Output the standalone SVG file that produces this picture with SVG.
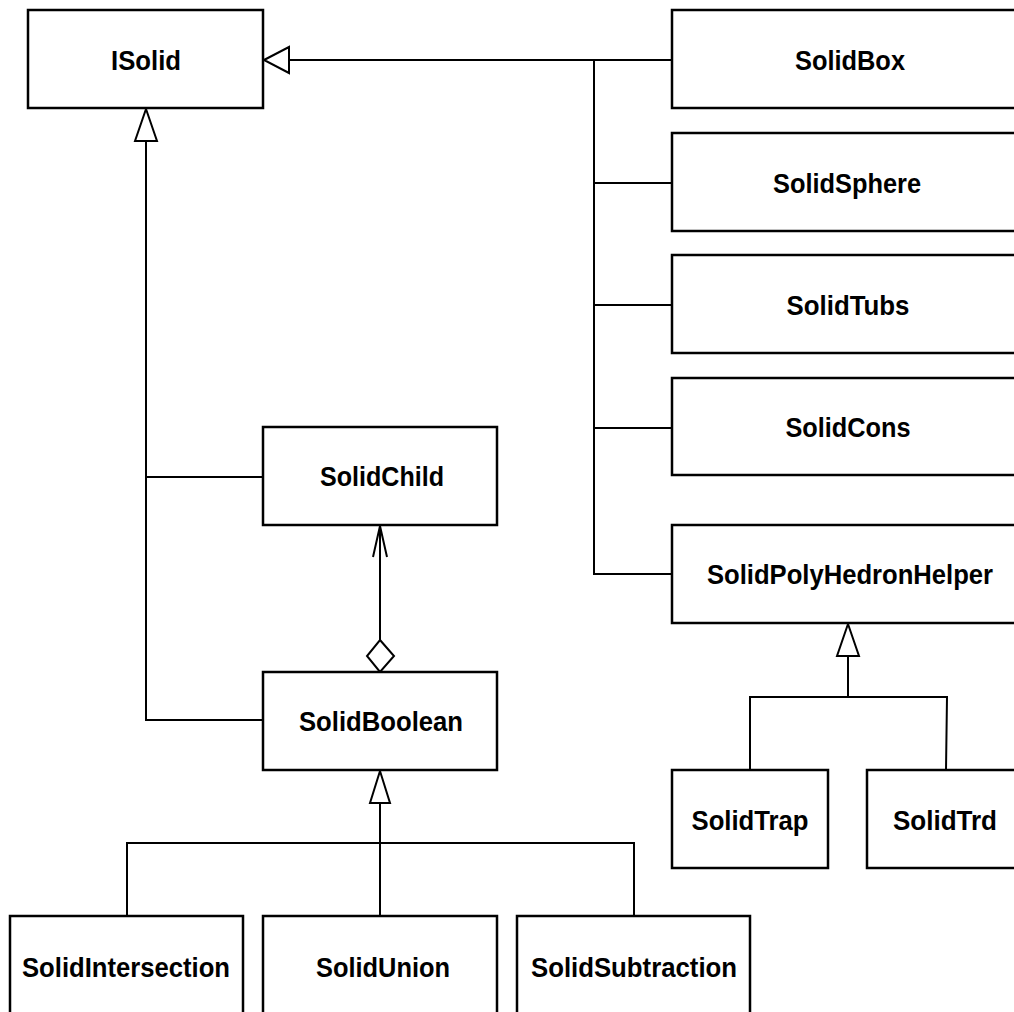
<svg xmlns="http://www.w3.org/2000/svg" width="1014" height="1012" viewBox="0 0 1014 1012">
<style>
.box{fill:#fff;stroke:#000;stroke-width:2.5}
.lbl{font-family:"Liberation Sans Narrow","Liberation Sans",Arial,sans-serif;font-weight:bold;font-size:28px;fill:#000;text-anchor:middle}
.ln{fill:none;stroke:#000;stroke-width:2}
.tri{fill:#fff;stroke:#000;stroke-width:2}
</style>
<rect width="1014" height="1012" fill="#fff"/>
<g id="connectors">
  <polyline class="ln" points="289,60 672,60"/>
  <polyline class="ln" points="594,60 594,574 672,574"/>
  <line class="ln" x1="594" y1="183" x2="672" y2="183"/>
  <line class="ln" x1="594" y1="305" x2="672" y2="305"/>
  <line class="ln" x1="594" y1="428" x2="672" y2="428"/>
  <polygon class="tri" points="264,60 289,47 289,73"/>
  <polyline class="ln" points="146,141 146,720 263,720"/>
  <line class="ln" x1="146" y1="477" x2="263" y2="477"/>
  <polygon class="tri" points="146,109 135,141 157,141"/>
  <line class="ln" x1="380" y1="526" x2="380" y2="640"/>
  <polyline class="ln" points="373,557 380,526 387,557"/>
  <polygon class="tri" points="380,640 394,656 380,672 367,656"/>
  <line class="ln" x1="380" y1="803" x2="380" y2="916"/>
  <polyline class="ln" points="127,916 127,843 634,843 634,916"/>
  <polygon class="tri" points="380,771 370,803 390,803"/>
  <line class="ln" x1="848" y1="656" x2="848" y2="697"/>
  <polyline class="ln" points="750,770 750,697 947,697 946,770"/>
  <polygon class="tri" points="848,624 837,656 859,656"/>
</g>
<g id="ISolid"><rect class="box" x="28" y="10" width="235" height="98"/><text class="lbl" x="146" y="70" textLength="70" lengthAdjust="spacingAndGlyphs">ISolid</text></g>
<g id="SolidBox"><rect class="box" x="672" y="10" width="360" height="98"/><text class="lbl" x="850" y="70" textLength="110" lengthAdjust="spacingAndGlyphs">SolidBox</text></g>
<g id="SolidSphere"><rect class="box" x="672" y="133" width="360" height="98"/><text class="lbl" x="847" y="193" textLength="148" lengthAdjust="spacingAndGlyphs">SolidSphere</text></g>
<g id="SolidTubs"><rect class="box" x="672" y="255" width="360" height="98"/><text class="lbl" x="848" y="315" textLength="123" lengthAdjust="spacingAndGlyphs">SolidTubs</text></g>
<g id="SolidCons"><rect class="box" x="672" y="378" width="360" height="97"/><text class="lbl" x="848" y="437" textLength="125" lengthAdjust="spacingAndGlyphs">SolidCons</text></g>
<g id="SolidPolyHedronHelper"><rect class="box" x="672" y="525" width="360" height="98"/><text class="lbl" x="850" y="584" textLength="286" lengthAdjust="spacingAndGlyphs">SolidPolyHedronHelper</text></g>
<g id="SolidChild"><rect class="box" x="263" y="427" width="234" height="98"/><text class="lbl" x="382" y="486" textLength="124" lengthAdjust="spacingAndGlyphs">SolidChild</text></g>
<g id="SolidBoolean"><rect class="box" x="263" y="672" width="234" height="98"/><text class="lbl" x="381" y="731" textLength="164" lengthAdjust="spacingAndGlyphs">SolidBoolean</text></g>
<g id="SolidTrap"><rect class="box" x="672" y="770" width="156" height="98"/><text class="lbl" x="750" y="830" textLength="117" lengthAdjust="spacingAndGlyphs">SolidTrap</text></g>
<g id="SolidTrd"><rect class="box" x="867" y="770" width="160" height="98"/><text class="lbl" x="945" y="830" textLength="104" lengthAdjust="spacingAndGlyphs">SolidTrd</text></g>
<g id="SolidIntersection"><rect class="box" x="10" y="916" width="233" height="110"/><text class="lbl" x="126" y="977" textLength="208" lengthAdjust="spacingAndGlyphs">SolidIntersection</text></g>
<g id="SolidUnion"><rect class="box" x="263" y="916" width="234" height="110"/><text class="lbl" x="383" y="977" textLength="134" lengthAdjust="spacingAndGlyphs">SolidUnion</text></g>
<g id="SolidSubtraction"><rect class="box" x="517" y="916" width="233" height="110"/><text class="lbl" x="634" y="977" textLength="206" lengthAdjust="spacingAndGlyphs">SolidSubtraction</text></g>
</svg>
